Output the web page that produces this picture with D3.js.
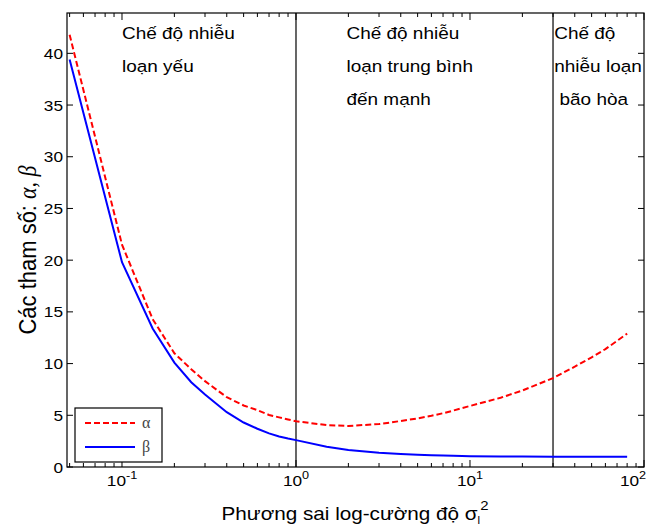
<!DOCTYPE html>
<html>
<head>
<meta charset="utf-8">
<script src="https://cdn.jsdelivr.net/npm/d3@7"></script>
<style>
  html, body { margin: 0; padding: 0; background: #fff; }
  svg { display: block; }
  text { font-family: Arial, "Liberation Sans", sans-serif; fill: #000; }
</style>
</head>
<body>
<svg id="chart" width="653" height="526"></svg>
<script>
// ---- data ----
const xValues = [0.05, 0.1, 0.15, 0.2, 0.25, 0.3, 0.4, 0.5, 0.6, 0.7, 0.8, 0.9, 1,
                 1.5, 2, 3, 4, 5, 6, 7, 8, 9, 10, 15, 20, 30, 40, 50, 60, 70, 80];
const alphaValues = [41.8, 21.5, 14.3, 11.0, 9.45, 8.3, 6.75, 5.95, 5.5, 5.03, 4.8, 4.6, 4.42,
                     4.05, 3.97, 4.15, 4.45, 4.7, 4.95, 5.2, 5.45, 5.7, 5.9, 6.7, 7.4, 8.6, 9.7, 10.6, 11.4, 12.2, 12.9];
const betaValues = [39.4, 19.8, 13.4, 10.1, 8.2, 7.0, 5.3, 4.3, 3.7, 3.25, 2.95, 2.75, 2.6,
                    1.95, 1.65, 1.38, 1.25, 1.18, 1.13, 1.1, 1.08, 1.06, 1.04, 1.02, 1.01, 1.0, 1.0, 1.0, 1.0, 1.0, 0.98];
const yTicks = [0, 5, 10, 15, 20, 25, 30, 35, 40];
const xMajorTicks = [0.1, 1, 10, 100];
const xMajorLabels = ["-1", "0", "1", "2"];
const regimeBounds = [1, 30];
const regimeLabels = [
  { x: 0.1, lines: ["Chế độ nhiễu", "loạn yếu"] },
  { x: 1.95, lines: ["Chế độ nhiễu", "loạn trung bình", "đến mạnh"] },
  { x: 30.5, lines: ["Chế độ", "nhiễu loạn", " bão hòa"] }
];
const seriesNames = ["α", "β"];
const xAxisTitle = "Phương sai log-cường độ σ";
const yAxisTitle = "Các tham số: ";

// ---- layout ----
const L = 67, R = 644, T = 13, B = 467;
const SX = 1.15; // horizontal stretch of the reference glyphs
const svg = d3.select("#chart");
const x = d3.scaleLog().domain([0.0483, 100]).range([L, R]);
const y = d3.scaleLinear().domain([0, 43.9]).range([B, T]);

function stext(parent, px, py, anchor, size, str) {
  const g = parent.append("g").attr("transform", `translate(${px},${py}) scale(${SX},1)`);
  const t = g.append("text").attr("text-anchor", anchor).style("font-size", size + "px");
  if (str !== undefined) t.text(str);
  return t;
}

// frame
svg.append("rect").attr("x", L).attr("y", T).attr("width", R - L).attr("height", B - T)
  .attr("fill", "none").attr("stroke", "#000").attr("stroke-width", 1.2);

// minor ticks (log)
const minor = [];
for (let e = -2; e < 2; e++) for (let k = 2; k <= 9; k++) {
  const v = k * Math.pow(10, e);
  if (v >= x.domain()[0] && v <= 100) minor.push(v);
}
const tickG = svg.append("g").attr("stroke", "#000").attr("stroke-width", 1);
minor.forEach(v => {
  tickG.append("line").attr("x1", x(v)).attr("x2", x(v)).attr("y1", B).attr("y2", B - 4);
  tickG.append("line").attr("x1", x(v)).attr("x2", x(v)).attr("y1", T).attr("y2", T + 4);
});
xMajorTicks.forEach(v => {
  tickG.append("line").attr("x1", x(v)).attr("x2", x(v)).attr("y1", B).attr("y2", B - 7);
  tickG.append("line").attr("x1", x(v)).attr("x2", x(v)).attr("y1", T).attr("y2", T + 7);
});
yTicks.forEach(v => {
  tickG.append("line").attr("x1", L).attr("x2", L + 6).attr("y1", y(v)).attr("y2", y(v));
  tickG.append("line").attr("x1", R).attr("x2", R - 6).attr("y1", y(v)).attr("y2", y(v));
});

// y tick labels
yTicks.forEach(v => {
  stext(svg, L - 4, y(v) + 5.5, "end", 15, String(v));
});
// x tick labels 10^n
xMajorTicks.forEach((v, i) => {
  const t = stext(svg, Math.min(x(v), 633), 486, "middle", 15);
  t.append("tspan").text("10");
  t.append("tspan").attr("dy", -7).style("font-size", "11px").text(xMajorLabels[i]);
});

// regime boundaries
regimeBounds.forEach(v => {
  svg.append("line").attr("x1", x(v)).attr("x2", x(v)).attr("y1", T).attr("y2", B)
    .attr("stroke", "#000").attr("stroke-width", 1.2);
});

// curves
const line = d3.line().x(d => x(d[0])).y(d => y(d[1]));
svg.append("path").datum(xValues.map((v, i) => [v, betaValues[i]]))
  .attr("d", line).attr("fill", "none").attr("stroke", "#0000ff").attr("stroke-width", 2);
svg.append("path").datum(xValues.map((v, i) => [v, alphaValues[i]]))
  .attr("d", line).attr("fill", "none").attr("stroke", "#ff0000").attr("stroke-width", 2)
  .attr("stroke-dasharray", "6,3");

// regime labels
const lineY = [39, 72, 105];
regimeLabels.forEach(r => {
  r.lines.forEach((s, i) => {
    stext(svg, x(r.x), lineY[i], "start", 16.5, s).attr("xml:space", "preserve").style("white-space", "pre");
  });
});

// legend
const lg = svg.append("g");
lg.append("rect").attr("x", 75).attr("y", 408).attr("width", 87).attr("height", 54)
  .attr("fill", "#fff").attr("stroke", "#000").attr("stroke-width", 1.2);
lg.append("line").attr("x1", 85).attr("x2", 135).attr("y1", 423).attr("y2", 423)
  .attr("stroke", "#ff0000").attr("stroke-width", 2).attr("stroke-dasharray", "6,3");
lg.append("line").attr("x1", 85).attr("x2", 135).attr("y1", 447).attr("y2", 447)
  .attr("stroke", "#0000ff").attr("stroke-width", 2);
[423, 447].forEach((yy, i) => {
  lg.append("text").attr("x", 142).attr("y", yy + 5)
    .style("font-family", "'Liberation Serif', 'Times New Roman', serif")
    .style("font-size", "16px").style("fill", "#444").text(seriesNames[i]);
});

// x axis title
const xt = stext(svg, 355, 520, "middle", 18);
xt.append("tspan").text(xAxisTitle);
xt.append("tspan").attr("dy", 4).style("font-size", "10px").text("l");
xt.append("tspan").attr("dy", -14).style("font-size", "13px").text("2");

// y axis title
const yt = svg.append("g").attr("transform", "translate(36,250) rotate(-90) scale(1,1.1)")
  .append("text").attr("text-anchor", "middle").style("font-size", "22px");
yt.append("tspan").text(yAxisTitle);
yt.append("tspan").style("font-family", "'Liberation Serif', 'Times New Roman', serif").style("font-style", "italic").text("α, β");
</script>
</body>
</html>
